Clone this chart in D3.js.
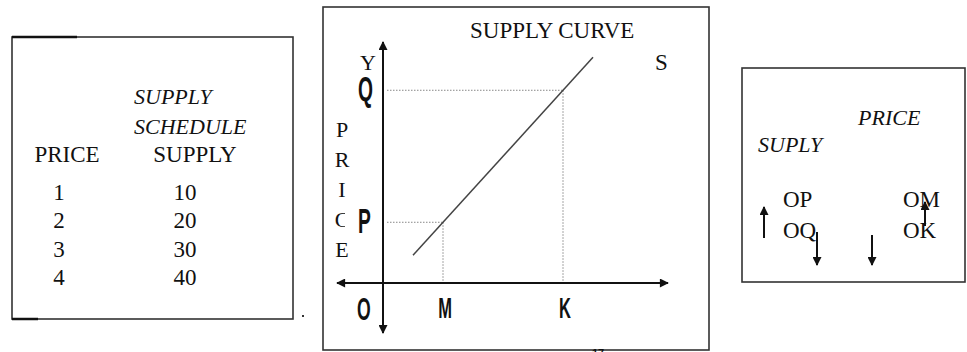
<!DOCTYPE html>
<html>
<head>
<meta charset="utf-8">
<script src="https://cdn.jsdelivr.net/npm/d3@7"></script>
<style>
  body { margin: 0; background: #fff; }
  text { font-family: "Liberation Serif", "Times New Roman", serif; fill: #111; }
  .bold { font-family: "Liberation Sans", Arial, sans-serif; font-weight: bold; }
</style>
</head>
<body>
<div id="chart-area"></div>
<script>
// supply schedule table
var tableTitle = ["SUPPLY", "SCHEDULE"];
var tableHeaders = ["PRICE", "SUPPLY"];
var prices = [1, 2, 3, 4];
var supplies = [10, 20, 30, 40];

// supply curve, quantity / price units
var curveQty = [0.5, 3.5];
var curvePrice = [0.42, 3.42];
var markQty = [1, 3];
var markQtyLabels = ["M", "K"];
var markPrice = [0.92, 2.92];
var markPriceLabels = ["P", "Q"];
var axisWord = ["P", "R", "I", "C", "E"];

// summary box
var summaryHeads = ["PRICE", "SUPLY"];
var summaryLeft = ["OP", "OQ"];
var summaryRight = ["OM", "OK"];
var arrowDirs = ["up", "down", "down", "up"];

var width = 967, height = 352;

var svg = d3.select("#chart-area")
  .append("svg")
  .attr("width", width)
  .attr("height", height);

var defs = svg.append("defs");
defs.append("marker")
  .attr("id", "head")
  .attr("viewBox", "0 0 10 10")
  .attr("refX", 9).attr("refY", 5)
  .attr("markerWidth", 10).attr("markerHeight", 9)
  .attr("markerUnits", "userSpaceOnUse")
  .attr("orient", "auto")
  .append("path")
  .attr("d", "M0,0L10,5L0,10Z")
  .attr("fill", "#111");

function box(x0, y0, x1, y1) {
  svg.append("rect")
    .attr("x", x0).attr("y", y0)
    .attr("width", x1 - x0).attr("height", y1 - y0)
    .attr("fill", "none")
    .attr("stroke", "#333")
    .attr("stroke-width", 1.6);
}

function arrow(x1, y1, x2, y2, w) {
  svg.append("line")
    .attr("x1", x1).attr("y1", y1)
    .attr("x2", x2).attr("y2", y2)
    .attr("stroke", "#111")
    .attr("stroke-width", w || 2)
    .attr("marker-end", "url(#head)");
}

// ---------- left: schedule ----------
box(12, 37, 293, 319);
svg.append("line").attr("x1", 12).attr("x2", 77).attr("y1", 37).attr("y2", 37)
  .attr("stroke", "#111").attr("stroke-width", 2.5);
svg.append("line").attr("x1", 12).attr("x2", 38).attr("y1", 319).attr("y2", 319)
  .attr("stroke", "#111").attr("stroke-width", 2.5);

svg.selectAll(".title")
  .data(tableTitle)
  .enter().append("text")
  .attr("class", "title")
  .attr("x", 134)
  .attr("y", (d, i) => 104 + i * 30)
  .attr("font-size", "22px")
  .attr("font-style", "italic")
  .text((d) => d);

var colX = d3.scaleOrdinal().domain(tableHeaders).range([67, 195]);
var rowY = d3.scaleLinear().domain([0, prices.length - 1]).range([200, 285]);

svg.selectAll(".head")
  .data(tableHeaders)
  .enter().append("text")
  .attr("class", "head")
  .attr("x", (d) => colX(d))
  .attr("y", 162)
  .attr("text-anchor", "middle")
  .attr("font-size", "23px")
  .text((d) => d);

svg.selectAll(".price")
  .data(prices)
  .enter().append("text")
  .attr("class", "price")
  .attr("x", 59)
  .attr("y", (d, i) => rowY(i))
  .attr("text-anchor", "middle")
  .attr("font-size", "23px")
  .text((d) => d);

svg.selectAll(".supply")
  .data(supplies)
  .enter().append("text")
  .attr("class", "supply")
  .attr("x", 185)
  .attr("y", (d, i) => rowY(i))
  .attr("text-anchor", "middle")
  .attr("font-size", "23px")
  .text((d) => d);

svg.append("rect").attr("x", 302).attr("y", 315).attr("width", 2).attr("height", 2).attr("fill", "#333");

// ---------- middle: supply curve ----------
box(323, 7, 709, 350);

var xScale = d3.scaleLinear().domain([0, 1]).range([383, 443]);
var yScale = d3.scaleLinear().domain([0, 1]).range([283, 217]);

svg.append("text")
  .attr("x", 470).attr("y", 38)
  .attr("font-size", "23px")
  .text("SUPPLY CURVE");
svg.append("text").attr("x", 655).attr("y", 70).attr("font-size", "23px").text("S");
svg.append("text").attr("x", 360).attr("y", 70).attr("font-size", "22px").text("Y");

svg.selectAll(".axword")
  .data(axisWord)
  .enter().append("text")
  .attr("class", "axword")
  .attr("x", 342)
  .attr("y", (d, i) => 137 + i * 30)
  .attr("text-anchor", "middle")
  .attr("font-size", "22px")
  .text((d) => d);

// guide lines
markPrice.forEach((p, i) => {
  var q = markQty[i];
  svg.append("line")
    .attr("x1", xScale(0) + 4).attr("x2", xScale(q))
    .attr("y1", yScale(p)).attr("y2", yScale(p))
    .attr("stroke", "#888").attr("stroke-dasharray", "1.5,1.5");
  svg.append("line")
    .attr("x1", xScale(q)).attr("x2", xScale(q))
    .attr("y1", yScale(p)).attr("y2", yScale(0))
    .attr("stroke", "#888").attr("stroke-dasharray", "1.5,1.5");
});

// axes
arrow(xScale(0), 320, xScale(0), 42, 2);
arrow(xScale(0), 320, xScale(0), 333, 2);
arrow(xScale(0), yScale(0), 337, yScale(0), 2);
arrow(xScale(0), yScale(0), 668, yScale(0), 2);

// curve
var line = d3.line()
  .x((d) => xScale(d[0]))
  .y((d) => yScale(d[1]));
svg.append("path")
  .datum(d3.zip(curveQty, curvePrice))
  .attr("d", line)
  .attr("fill", "none")
  .attr("stroke", "#444")
  .attr("stroke-width", 1.5);

function boldLabel(txt, x, y, size, anchor) {
  svg.append("text")
    .attr("class", "bold")
    .attr("transform", "translate(" + x + "," + y + ") scale(0.55,1)")
    .attr("text-anchor", anchor || "start")
    .attr("font-size", size + "px")
    .text(txt);
}

// the P label box hides the right part of the "C"
svg.append("rect").attr("x", 345).attr("y", 205).attr("width", 30).attr("height", 30).attr("fill", "#fff");
markPriceLabels.forEach((l, i) => boldLabel(l, 358, yScale(markPrice[i]) + 11, 35));
markQtyLabels.forEach((l, i) => boldLabel(l, xScale(markQty[i]) + 2, 318, 30, "middle"));
boldLabel("O", 357, 320, 32);

svg.append("text").attr("class", "bold").attr("x", 592).attr("y", 357).attr("font-size", "11px").text("17");

// ---------- right: summary ----------
box(742, 68, 965, 282);

svg.selectAll(".shead")
  .data(summaryHeads)
  .enter().append("text")
  .attr("class", "shead")
  .attr("x", (d, i) => i === 0 ? 858 : 758)
  .attr("y", (d, i) => i === 0 ? 125 : 152)
  .attr("font-size", "22px")
  .attr("font-style", "italic")
  .text((d) => d);

svg.selectAll(".sleft")
  .data(summaryLeft)
  .enter().append("text")
  .attr("x", 783)
  .attr("y", (d, i) => 207 + i * 31)
  .attr("font-size", "23px")
  .text((d) => d);

svg.selectAll(".sright")
  .data(summaryRight)
  .enter().append("text")
  .attr("x", 903)
  .attr("y", (d, i) => 207 + i * 31)
  .attr("font-size", "23px")
  .text((d) => d);

var arrowX = [764, 817, 872, 925];
var arrowSpan = [[238, 207], [232, 265], [235, 265], [226, 202]];
arrowDirs.forEach((dir, i) => {
  var s = arrowSpan[i];
  arrow(arrowX[i], s[0], arrowX[i], s[1], 2);
});
</script>
</body>
</html>
